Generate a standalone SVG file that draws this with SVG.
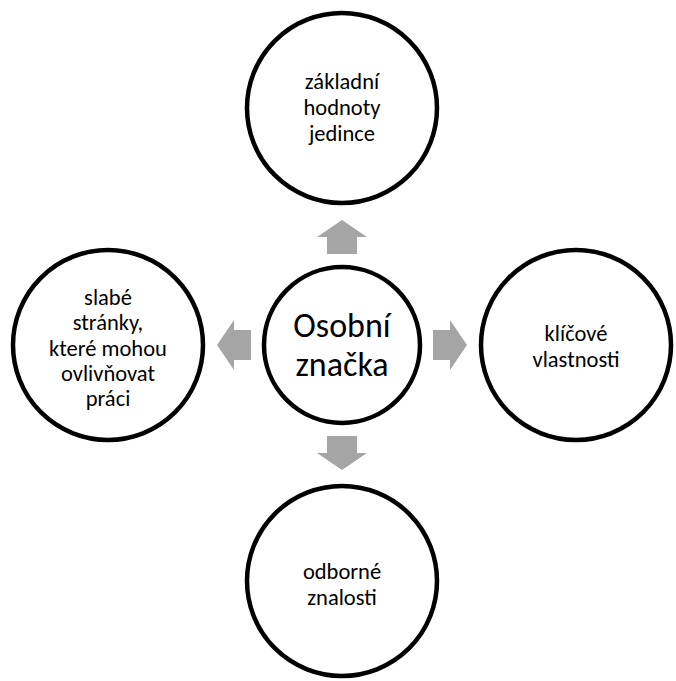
<svg xmlns="http://www.w3.org/2000/svg" width="676" height="681" viewBox="0 0 676 681">
<style>
.c{fill:#fff;stroke:#000;stroke-width:4.5}
.t{font-family:Carlito,Calibri,Lato,"Liberation Sans",sans-serif;font-size:22.5px;fill:#000;text-anchor:middle}
.big{font-size:34px}
.a{fill:#A5A5A5}
</style>
<rect width="676" height="681" fill="#fff"/>
<g id="connectors">
<polygon class="a" points="342,220 367,237 357,237 357,254 327,254 327,237 317,237"/>
<polygon class="a" points="342,470 367,453 357,453 357,436 327,436 327,453 317,453"/>
<polygon class="a" points="217,345 234,320 234,330 251,330 251,360 234,360 234,370"/>
<polygon class="a" points="467,345 450,320 450,330 433,330 433,360 450,360 450,370"/>
</g>
<g id="center">
<circle class="c" cx="342" cy="345" r="78"/>
<text class="t big" x="342" y="337">Osobní</text>
<text class="t big" x="342" y="376">značka</text>
</g>
<g id="top">
<circle class="c" cx="342" cy="108" r="95"/>
<text class="t" x="342" y="89">základní</text>
<text class="t" x="342" y="115">hodnoty</text>
<text class="t" x="342" y="141">jedince</text>
</g>
<g id="right">
<circle class="c" cx="576" cy="345" r="95"/>
<text class="t" x="576" y="341">klíčové</text>
<text class="t" x="576" y="367">vlastnosti</text>
</g>
<g id="bottom">
<circle class="c" cx="342" cy="581" r="95"/>
<text class="t" x="342" y="579">odborné</text>
<text class="t" x="342" y="605">znalosti</text>
</g>
<g id="left">
<circle class="c" cx="108" cy="345" r="95"/>
<text class="t" x="108" y="305">slabé</text>
<text class="t" x="108" y="330">stránky,</text>
<text class="t" x="108" y="356">které mohou</text>
<text class="t" x="108" y="381">ovlivňovat</text>
<text class="t" x="108" y="406">práci</text>
</g>
</svg>
